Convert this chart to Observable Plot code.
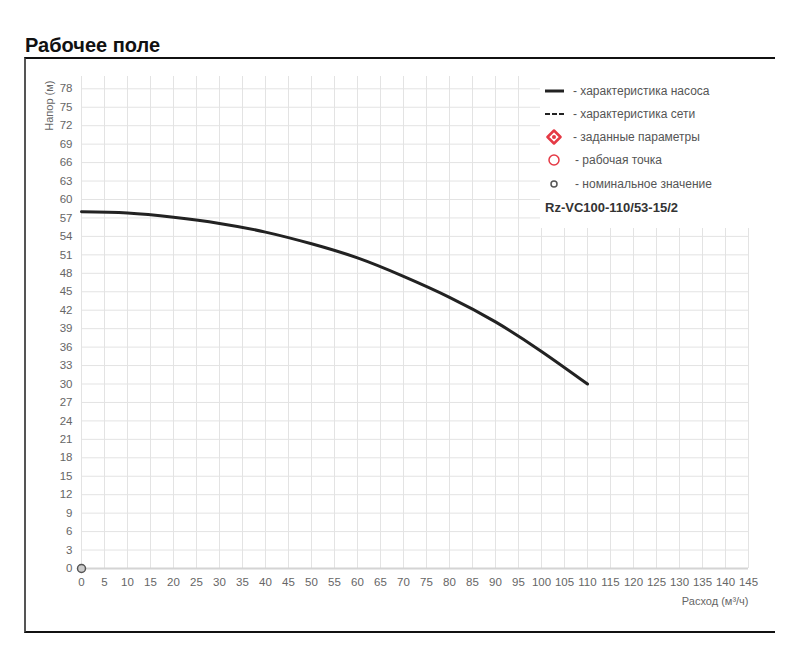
<!DOCTYPE html>
<html>
<head>
<meta charset="utf-8">
<script src="https://cdn.jsdelivr.net/npm/d3@7"></script>
<script src="https://cdn.jsdelivr.net/npm/@observablehq/plot@0.6"></script>
<style>
  html, body { margin: 0; padding: 0; background: #fff; }
  #wrap { position: relative; width: 800px; height: 665px; overflow: hidden; font-family: "Liberation Sans", Arial, sans-serif; }
  #title { position: absolute; left: 25px; top: 34px; font-size: 20px; font-weight: bold; color: #111; line-height: 23px; }
  #frame { position: absolute; left: 24px; top: 57px; width: 749px; height: 572px; border-top: 2px solid #111; border-left: 2px solid #555; border-bottom: 2px solid #111; box-sizing: content-box; }
  #chart { position: absolute; left: 0; top: 0; }
  #legend { position: absolute; left: 540px; top: 76px; width: 212px; height: 152px; background: #fff; font-size: 12px; color: #555; }
  .row { position: absolute; left: 0; height: 16px; }
  .row svg { position: absolute; left: 0; top: 0; }
  .row span { position: absolute; white-space: nowrap; }
  #model { position: absolute; left: 5px; top: 124px; font-weight: bold; font-size: 13px; color: #333; white-space: nowrap; }
</style>
</head>
<body>
<div id="wrap">
  <div id="chart"></div>
  <div id="frame"></div>
  <div id="title">Рабочее поле</div>
  <div id="legend"></div>
</div>
<script>
// Data
const flow = [0, 10, 20, 30, 40, 50, 60, 70, 80, 90, 100, 110];          // Расход, м³/ч
const head = [58, 57.8, 57.1, 56.1, 54.7, 52.8, 50.5, 47.5, 44.1, 40.1, 35.3, 30]; // Напор, м
const nominalFlow = [0];
const nominalHead = [0];
const xTicks = d3.range(0, 146, 5);
const yTicks = d3.range(0, 79, 3);
const legendLabels = ["- характеристика насоса", "- характеристика сети", "- заданные параметры", "- рабочая точка", "- номинальное значение"];
const modelName = "Rz-VC100-110/53-15/2";
const xLabel = "Расход (м³/ч)";
const yLabel = "Напор (м)";

const pump = flow.map((q, i) => ({q, h: head[i]}));
const nominal = nominalFlow.map((q, i) => ({q, h: nominalHead[i]}));

const chart = Plot.plot({
  width: 800,
  height: 665,
  marginLeft: 81,
  marginRight: 52,
  marginTop: 76,
  marginBottom: 97,
  style: {fontFamily: "Liberation Sans, Arial, sans-serif", fontSize: "11px", color: "#666", background: "transparent"},
  x: {domain: [0, 145]},
  y: {domain: [0, 80]},
  marks: [
    Plot.gridX(xTicks, {stroke: "#e3e3e3", strokeOpacity: 1}),
    Plot.gridY(yTicks, {stroke: "#e3e3e3", strokeOpacity: 1}),
    Plot.ruleY([0], {stroke: "#d4d4d4", strokeWidth: 2}),
    Plot.axisX(xTicks, {tickSize: 0, tickPadding: 9, label: null, fill: "#666", fontSize: 11.5}),
    Plot.axisY(yTicks, {tickSize: 0, tickPadding: 9, label: null, fill: "#666", fontSize: 11.5}),
    Plot.line(pump, {x: "q", y: "h", curve: "natural", stroke: "#222", strokeWidth: 3}),
    Plot.dot(nominal, {x: "q", y: "h", r: 4, stroke: "#555", fill: "#ccc", strokeWidth: 1.5}),
    Plot.text([xLabel], {frameAnchor: "bottom-right", textAnchor: "end", dy: 36, fill: "#666", fontSize: 11}),
    Plot.text([yLabel], {frameAnchor: "top-left", rotate: -90, textAnchor: "end", dx: -36, dy: 4, fill: "#666", fontSize: 11})
  ]
});
document.getElementById("chart").appendChild(chart);

// Legend
const legend = document.getElementById("legend");
const rowsY = [7, 30, 53, 76, 100];
const icons = [
  '<svg width="30" height="16"><line x1="5" y1="8" x2="24" y2="8" stroke="#222" stroke-width="3"/></svg>',
  '<svg width="30" height="16"><line x1="5" y1="8" x2="24" y2="8" stroke="#222" stroke-width="2" stroke-dasharray="5,2"/></svg>',
  '<svg width="30" height="16"><path d="M14 1.5 L20.5 8 L14 14.5 L7.5 8 Z" fill="#fff" stroke="#e53945" stroke-width="2.5" stroke-linejoin="round"/><circle cx="14" cy="8" r="2" fill="#e53945"/></svg>',
  '<svg width="30" height="16"><circle cx="14" cy="8" r="5" fill="#fff" stroke="#e53945" stroke-width="1.5"/></svg>',
  '<svg width="30" height="16"><circle cx="14" cy="8" r="3" fill="#fff" stroke="#555" stroke-width="1.5"/></svg>'
];
const textX = [33, 33, 33, 35, 35];
legendLabels.forEach((lab, i) => {
  const row = document.createElement("div");
  row.className = "row";
  row.style.top = rowsY[i] + "px";
  row.style.width = "212px";
  row.innerHTML = icons[i] + '<span style="left:' + textX[i] + 'px;top:0px;line-height:16px">' + lab + '</span>';
  legend.appendChild(row);
});
const model = document.createElement("div");
model.id = "model";
model.textContent = modelName;
legend.appendChild(model);
</script>
</body>
</html>
